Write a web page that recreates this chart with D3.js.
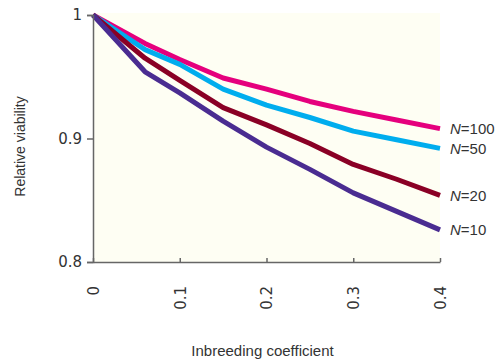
<!DOCTYPE html>
<html>
<head>
<meta charset="utf-8">
<script src="https://cdn.jsdelivr.net/npm/d3@7"></script>
<style>
  html, body { margin: 0; padding: 0; background: #fff; }
  svg { display: block; }
  text { font-family: "Liberation Sans", Arial, sans-serif; fill: #333; }
</style>
</head>
<body>
<svg id="chart" width="497" height="362"></svg>
<script>
// inbreeding coefficient F at which the curves were read
const inbreeding = [0, 0.06, 0.1, 0.15, 0.2, 0.25, 0.3, 0.35, 0.4];

const viabilityN100 = [1, 0.977, 0.964, 0.949, 0.940, 0.930, 0.922, 0.915, 0.908];
const viabilityN50 = [1, 0.972, 0.960, 0.940, 0.927, 0.917, 0.906, 0.899, 0.892];
const viabilityN20 = [1, 0.965, 0.947, 0.925, 0.911, 0.896, 0.879, 0.867, 0.854];
const viabilityN10 = [1, 0.954, 0.937, 0.914, 0.893, 0.875, 0.856, 0.841, 0.826];

const seriesNames = ['100', '50', '20', '10'];
const seriesColors = ['#e5007d', '#00adee', '#8a0025', '#4a2c91'];

const xTicks = [0, 0.1, 0.2, 0.3, 0.4];
const xTickLabels = ['0', '0.1', '0.2', '0.3', '0.4'];
const yTicks = [0.8, 0.9, 1];
const yTickLabels = ['0.8', '0.9', '1'];

const series = [viabilityN100, viabilityN50, viabilityN20, viabilityN10].map((values, i) => ({
  name: seriesNames[i],
  color: seriesColors[i],
  points: inbreeding.map((f, j) => ({ f, v: values[j] })),
}));

const svg = d3.select('#chart');
const margin = { top: 15, right: 57, bottom: 100, left: 93 };
const width = 497, height = 362;
const innerWidth = width - margin.left - margin.right;
const innerHeight = height - margin.top - margin.bottom;

const x = d3.scaleLinear().domain([0, 0.4]).range([0, innerWidth]);
const y = d3.scaleLinear().domain([0.8, 1]).range([innerHeight, 0]);

const root = svg.append('g').attr('transform', `translate(${margin.left}, ${margin.top})`);

root.append('rect')
  .attr('x', 0).attr('y', -2)
  .attr('width', innerWidth).attr('height', innerHeight + 2)
  .attr('fill', '#fefef3');

const line = d3.line().x((d) => x(d.f)).y((d) => y(d.v));

root.selectAll('path.series')
  .data(series)
  .enter()
  .append('path')
  .attr('class', 'series')
  .attr('fill', 'none')
  .attr('stroke', (d) => d.color)
  .attr('stroke-width', 5)
  .attr('stroke-linejoin', 'round')
  .attr('d', (d) => line(d.points));

// y axis
root.append('g')
  .call(d3.axisLeft(y).tickValues(yTicks).tickSize(6).tickPadding(5)
    .tickFormat((d, i) => yTickLabels[i]))
  .call((g) => g.selectAll('text').attr('font-size', 15).attr('fill', '#333')
    .style('font-family', '"DejaVu Sans", sans-serif'))
  .call((g) => g.selectAll('line, path').attr('stroke', '#666').attr('stroke-width', 1.5));

// x axis, ticks point up into the plot
root.append('g')
  .attr('transform', `translate(0, ${innerHeight})`)
  .call(d3.axisBottom(x).tickValues(xTicks).tickSize(-4).tickSizeOuter(0)
    .tickFormat((d, i) => xTickLabels[i]))
  .call((g) => g.selectAll('line, path').attr('stroke', '#666').attr('stroke-width', 1.5))
  .call((g) => g.selectAll('text')
    .attr('font-size', 15)
    .attr('fill', '#333')
    .style('font-family', '"DejaVu Sans", sans-serif')
    .attr('text-anchor', 'end')
    .attr('dy', '0.35em')
    .attr('transform', 'translate(0, 24) rotate(-90)')
    .attr('x', 0).attr('y', 0));

// series labels
root.selectAll('text.label')
  .data(series)
  .enter()
  .append('text')
  .attr('class', 'label')
  .attr('x', innerWidth + 10)
  .attr('y', (d) => y(d.points[d.points.length - 1].v))
  .attr('dy', '0.35em')
  .attr('font-size', 15)
  .call((t) => {
    t.append('tspan').attr('font-style', 'italic').text('N');
    t.append('tspan').text((d) => '=' + d.name);
  });

svg.append('text')
  .attr('transform', `translate(25, ${margin.top + innerHeight / 2 + 8}) rotate(-90)`)
  .attr('text-anchor', 'middle')
  .attr('font-size', 14)
  .text('Relative viability');

svg.append('text')
  .attr('x', margin.left + innerWidth / 2 - 4)
  .attr('y', 356)
  .attr('text-anchor', 'middle')
  .attr('font-size', 15)
  .text('Inbreeding coefficient');
</script>
</body>
</html>
